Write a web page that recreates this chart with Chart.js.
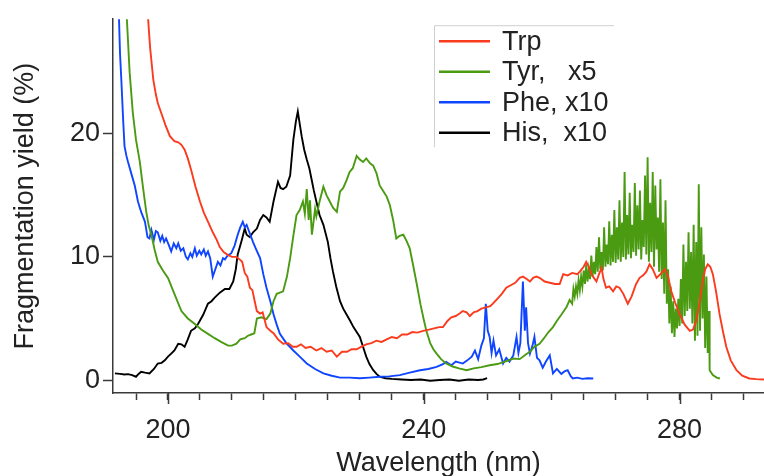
<!DOCTYPE html>
<html>
<head>
<meta charset="utf-8">
<script src="https://cdn.jsdelivr.net/npm/chart.js@4/dist/chart.umd.min.js"></script>
<style>
  html, body { margin: 0; padding: 0; background: #fff; }
  #wrap { width: 764px; height: 476px; }
</style>
</head>
<body>
<div id="wrap"><canvas id="c" width="764" height="476"></canvas></div>
<script>
// fragmentation yield vs wavelength
const trpX = [196.8, 197.2, 197.7, 198.1, 198.4, 199.0, 199.6, 200.3, 201.0, 201.6, 202.1, 202.6, 203.1, 203.6, 204.3, 205.0, 205.6, 206.3, 207.0, 207.6,
  208.1, 208.7, 209.4, 210.0, 210.7, 211.2, 211.6, 212.0, 212.4, 212.8, 213.2, 213.6, 213.9, 214.4, 214.8, 215.4, 216.0, 216.5, 217.2, 218.0,
  218.8, 219.5, 220.1, 220.8, 221.5, 222.3, 223.2, 224.0, 224.8, 225.6, 226.4, 227.2, 228.0, 228.7, 229.5, 230.2, 231.0, 231.8, 232.6, 233.4,
  234.2, 235.0, 235.8, 236.6, 237.4, 238.2, 239.0, 239.9, 240.8, 241.6, 242.4, 243.0, 243.7, 244.3, 245.0, 245.6, 246.1, 246.7, 247.2, 247.8,
  248.4, 249.0, 249.7, 250.4, 250.8, 251.5, 252.2, 252.9, 253.6, 254.3, 255.0, 255.5, 256.1, 256.6, 257.1, 257.6, 258.1, 258.9, 259.7, 260.5,
  261.25, 261.8, 262.5, 263.2, 264.0, 264.4, 265.0, 265.4, 265.8, 266.2, 266.6, 267.0, 267.4, 267.8, 268.1, 268.5, 269.0, 269.6, 270.1, 270.6,
  271.2, 271.9, 272.5, 273.2, 273.75, 274.3, 274.8, 275.3, 275.8, 276.4, 277.0, 277.7, 278.2, 278.7, 279.3, 280.0, 280.8, 281.6, 282.1, 282.6,
  283.1, 283.6, 284.0, 284.4, 284.8, 285.2, 285.7, 286.25, 286.8, 287.3, 288.0, 288.9, 289.8, 290.9, 292.0, 293.2];
const trpY = [30.0, 27.0, 24.4, 23.2, 22.5, 21.6, 20.7, 19.8, 19.4, 19.3, 19.1, 18.7, 18.0, 17.1, 15.7, 14.5, 13.6, 12.8, 12.0, 11.4,
  10.8, 10.4, 10.15, 10.0, 10.0, 9.8, 9.6, 8.7, 8.4, 7.5, 7.3, 6.3, 5.6, 5.4, 5.5, 4.3, 4.0, 3.8, 3.3, 2.95,
  3.0, 2.7, 2.7, 2.9, 2.6, 2.7, 2.4, 2.6, 2.3, 2.4, 1.9, 2.3, 2.3, 2.5, 2.5, 2.7, 2.9, 3.0, 3.2, 3.1,
  3.3, 3.5, 3.4, 3.7, 3.7, 3.9, 3.85, 4.0, 4.1, 4.2, 4.3, 4.3, 4.8, 5.1, 5.2, 5.4, 5.6, 5.5, 5.2, 5.5,
  5.6, 5.8, 5.9, 6.0, 6.2, 6.6, 7.0, 7.5, 7.7, 7.9, 8.3, 8.4, 8.2, 8.0, 8.3, 8.4, 8.3, 8.0, 7.9, 7.8,
  7.8, 8.6, 8.5, 8.7, 8.6, 8.8, 9.2, 9.6, 9.2, 8.6, 8.3, 8.0, 8.6, 9.1, 8.2, 7.5, 7.6, 7.2, 7.6, 7.5,
  7.0, 6.2, 6.8, 7.8, 8.3, 8.5, 8.8, 9.4, 9.0, 8.3, 8.6, 9.0, 8.4, 7.2, 6.3, 5.35, 4.5, 4.0, 4.1, 4.8,
  6.2, 8.0, 9.0, 9.4, 9.2, 8.6, 7.2, 5.35, 3.9, 2.7, 1.6, 0.8, 0.35, 0.13, 0.08, 0.05];

const tyrX = [193.5, 194.0, 194.5, 195.0, 195.6, 196.1, 196.6, 197.0, 197.4, 197.9, 198.4, 199.2, 200.0, 201.0, 202.1, 203.1, 204.2, 205.2, 206.25, 207.3,
  208.3, 209.4, 210.0, 210.7, 211.3, 212.0, 212.5, 213.0, 213.5, 213.9, 214.6, 215.4, 216.0, 216.5, 217.0, 217.5, 218.0, 218.6, 219.1, 219.6,
  220.1, 220.6, 221.1, 221.4, 221.7, 222.0, 222.2, 222.5, 222.7, 223.0, 223.2, 223.7, 224.3, 224.8, 225.3, 225.8, 226.4, 226.9, 227.4, 227.9,
  228.4, 228.9, 229.5, 230.0, 230.5, 231.0, 231.6, 232.1, 232.6, 233.1, 233.6, 234.2, 234.7, 235.2, 235.7, 236.2, 236.8, 237.3, 237.8, 238.3,
  238.9, 239.5, 240.0, 240.4, 241.0, 241.5, 242.0, 242.7, 243.5, 244.5, 245.5, 246.7, 247.8, 249.0, 250.3, 251.5, 252.7, 254.0, 255.0, 256.0,
  256.6, 257.3, 258.1, 258.8, 259.5, 260.2, 260.8, 261.5, 262.3, 262.8,
  263.2, 263.4, 263.6, 263.8, 264.0, 264.2, 264.4, 264.6, 264.8, 265.0, 265.2, 265.4, 265.6, 265.8, 266.0, 266.2, 266.4, 266.6, 266.8, 267.0,
  267.2, 267.4, 267.6, 267.8, 268.0, 268.2, 268.4, 268.6, 268.8, 269.0, 269.2, 269.4, 269.6, 269.8, 270.0, 270.2, 270.4, 270.6, 270.8, 271.0,
  271.2, 271.4, 271.6, 271.8, 272.0, 272.2, 272.4, 272.6, 272.8, 273.0, 273.2, 273.4, 273.6, 273.8, 274.0, 274.2, 274.4, 274.6, 274.8, 275.0,
  275.2, 275.4, 275.6, 275.8, 276.0, 276.2, 276.4, 276.6, 276.8, 277.0, 277.2, 277.4, 277.6, 277.8, 278.0, 278.2, 278.4, 278.6, 278.8, 279.0,
  279.2, 279.4, 279.6, 279.8, 280.0, 280.2, 280.4, 280.6, 280.8, 281.0, 281.2, 281.4, 281.6, 281.8, 282.0, 282.2, 282.4, 282.6, 282.8, 283.0,
  283.2, 283.4, 283.6, 283.8, 284.0, 284.2, 284.4, 284.6, 284.7, 285.2, 285.8, 286.3];
const tyrY = [30.0, 25.0, 21.7, 19.5, 17.7, 15.6, 13.65, 12.5, 11.8, 10.6, 9.6, 8.9, 8.3, 7.0, 5.6, 5.0, 4.55, 4.1, 3.75, 3.4,
  3.1, 2.8, 2.8, 2.95, 3.3, 3.4, 3.6, 3.7, 3.8, 5.0, 5.1, 4.95, 5.4, 6.4, 7.0, 7.1, 7.2, 8.4, 9.9, 11.7,
  13.4, 13.8, 14.5, 13.5, 15.5, 13.0, 14.6, 11.8, 12.6, 13.9, 13.3, 14.5, 15.7, 15.0, 14.5, 14.0, 13.65, 15.3, 15.6, 16.2,
  16.9, 17.2, 18.2, 17.9, 17.7, 18.0, 17.6, 17.4, 16.8, 15.8, 15.4, 14.9, 14.2, 13.0, 11.5, 11.7, 11.8, 11.3, 10.7, 9.4,
  7.8, 6.1, 4.9, 4.0, 3.0, 2.5, 2.15, 1.7, 1.35, 1.1, 0.95, 0.8, 0.95, 1.05, 1.2, 1.3, 1.5, 1.75, 1.7, 2.1,
  2.3, 2.7, 2.95, 3.4, 3.9, 4.3, 4.8, 5.3, 5.9, 6.5,
  6.2, 7.4, 6.8, 7.6, 7.0, 8.1, 7.3, 8.4, 7.6, 8.9, 7.8, 9.4, 8.0, 9.0, 8.2, 10.1, 8.4, 9.6, 8.6, 10.8,
  8.8, 11.6, 9.0, 10.4, 8.9, 12.4, 9.2, 11.0, 9.4, 12.9, 9.3, 11.8, 9.6, 13.8, 9.5, 12.4, 9.8, 14.6, 9.6, 12.8,
  10.0, 16.9, 9.8, 13.4, 10.2, 15.2, 9.9, 12.6, 10.4, 16.0, 10.1, 14.2, 10.6, 15.4, 9.8, 13.0, 10.8, 16.6, 10.2, 18.1,
  9.6, 14.4, 10.4, 16.9, 9.2, 15.8, 10.6, 13.2, 8.8, 16.3, 8.2, 12.8, 7.0, 14.6, 6.2, 9.0, 4.6, 7.6, 3.8, 6.4,
  3.5, 5.8, 4.2, 6.6, 4.4, 8.2, 4.6, 11.0, 5.2, 9.6, 5.6, 12.0, 5.8, 10.4, 4.6, 12.6, 3.2, 11.2, 3.6, 15.9,
  4.0, 12.4, 5.0, 10.2, 2.6, 8.4, 2.2, 5.6, 0.8, 0.4, 0.2, 0.13];

const pheX = [192.3, 192.5, 192.7, 193.0, 193.2, 193.5, 193.75, 194.3, 194.8, 195.3, 195.8, 196.4, 196.8, 197.1, 197.4, 197.8, 198.1, 198.4, 198.8, 199.1,
  199.4, 199.7, 200.1, 200.5, 200.9, 201.3, 201.6, 202.0, 202.4, 202.8, 203.1, 203.5, 203.8, 204.2, 204.5, 204.9, 205.2, 205.6, 205.9, 206.25,
  206.6, 207.0, 207.4, 207.8, 208.2, 208.6, 208.9, 209.3, 209.9, 210.4, 210.9, 211.3, 211.7, 212.0, 212.3, 212.8, 213.3, 213.8, 214.4, 214.9,
  215.4, 216.0, 216.5, 217.0, 217.5, 218.5, 219.6, 220.6, 221.7, 223.0, 224.3, 225.6, 226.9, 228.4, 230.0, 231.5, 233.1, 234.6, 236.25, 237.8,
  239.4, 240.7, 242.0, 243.0, 243.5, 244.3, 245.0, 246.1, 246.8, 247.5, 248.0, 248.5, 249.0, 249.4, 249.7, 250.0, 250.3, 250.6, 250.9, 251.3,
  251.8, 252.4, 252.9, 253.4, 254.0, 254.5, 254.8, 255.1, 255.5, 255.8, 256.0, 256.3, 256.6, 257.0, 257.3, 257.7, 258.1, 258.6, 259.1, 259.7,
  260.2, 260.8, 261.5, 262.0, 262.5, 263.0, 263.3, 264.0, 264.8, 265.6, 266.5];
const pheY = [30.0, 26.5, 24.4, 21.0, 19.0, 18.2, 17.7, 16.7, 15.8, 14.5, 13.65, 12.85, 11.6, 11.5, 12.2, 11.4, 12.1, 12.0, 11.3, 11.7,
  11.2, 11.5, 11.0, 10.45, 11.1, 10.7, 11.1, 10.5, 10.7, 10.0, 9.8, 10.3, 10.0, 10.7, 10.1, 10.5, 10.2, 10.6, 10.1, 10.45,
  9.9, 8.4, 9.0, 9.6, 9.3, 9.9, 9.8, 10.1, 10.3, 10.9, 11.8, 12.4, 12.85, 12.4, 12.6, 11.9, 11.2, 10.6, 9.9, 8.6,
  7.5, 6.4, 5.35, 4.5, 3.75, 3.0, 2.4, 1.9, 1.35, 0.9, 0.54, 0.35, 0.2, 0.2, 0.15, 0.2, 0.27, 0.3, 0.4, 0.6,
  0.8, 0.9, 1.07, 1.3, 1.47, 1.2, 1.5, 1.34, 1.6, 1.9, 2.4, 1.7, 2.8, 3.4, 6.2, 4.0, 3.5, 2.2, 3.2, 2.0,
  2.5, 1.34, 1.8, 1.5, 2.0, 3.5, 2.2, 3.0, 8.0, 4.0, 5.9, 3.0, 2.15, 2.8, 3.5, 1.8, 1.6, 1.0, 1.5, 2.0,
  0.54, 0.9, 0.5, 0.7, 0.8, 0.3, 0.13, 0.2, 0.1, 0.15, 0.13];

const hisX = [191.7, 192.5, 193.2, 193.75, 194.4, 195.0, 195.4, 195.8, 196.4, 197.1, 197.8, 198.4, 199.0, 199.5, 200.0, 200.5, 201.0, 201.6, 202.1, 202.6,
  203.1, 203.6, 204.2, 204.7, 205.5, 206.25, 206.8, 207.3, 208.1, 208.9, 209.6, 210.2, 210.6, 210.9, 211.5, 212.0, 212.3, 212.8, 213.3, 213.9,
  214.4, 214.9, 215.4, 215.9, 216.5, 217.2, 217.6, 218.0, 218.5, 219.1, 219.6, 220.0, 220.3, 220.6, 220.9, 221.3, 221.7, 222.1, 222.45, 222.8,
  223.2, 223.7, 224.3, 225.0, 225.4, 225.8, 226.3, 226.9, 227.4, 227.9, 228.5, 229.0, 229.5, 230.0, 230.5, 231.0, 231.5, 232.1, 232.6, 233.1,
  234.0, 235.0, 236.5, 238.0, 239.5, 241.0, 242.5, 244.0, 245.5, 247.0, 248.5, 249.3, 249.9];
const hisY = [0.54, 0.5, 0.45, 0.48, 0.4, 0.27, 0.5, 0.67, 0.6, 0.54, 0.9, 1.34, 1.4, 1.6, 1.9, 2.15, 2.4, 2.95, 2.9, 2.7,
  3.3, 4.0, 4.2, 4.55, 5.3, 6.2, 6.4, 6.7, 7.1, 7.4, 7.4, 8.0, 9.0, 10.2, 11.3, 12.3, 11.8, 11.6, 12.0, 12.3,
  13.0, 13.4, 13.2, 12.85, 14.5, 16.1, 15.6, 15.5, 15.7, 16.6, 19.5, 21.0, 21.8, 20.8, 19.8, 18.7, 17.9, 17.2, 16.3, 15.4,
  14.5, 13.4, 12.6, 11.2, 9.9, 8.8, 7.6, 6.4, 5.8, 5.35, 4.8, 4.3, 3.9, 3.5, 2.7, 1.9, 1.3, 0.8, 0.5, 0.27,
  0.15, 0.1, 0.05, 0.0, 0.05, -0.05, 0.0, 0.05, -0.05, 0.05, 0.0, 0.05, 0.15];

const seriesNames = ["Trp", "Tyr,   x5", "Phe, x10", "His,  x10"];
const seriesColors = ["#fb3b1e", "#4a9a12", "#0f45ff", "#000000"];
const xLabelTicks = [200, 240, 280];

const FONT = '"Liberation Sans", Arial, sans-serif';
const AXIS = "#3a3a3a";

function pts(xs, ys) {
  return xs.map((x, i) => ({ x: x, y: ys[i] }));
}

// longer ticks at the labelled wavelengths
const majorTicks = {
  id: "majorTicks",
  afterDraw(chart) {
    const sx = chart.scales.x, ctx = chart.ctx, b = chart.chartArea.bottom;
    ctx.save();
    ctx.strokeStyle = AXIS;
    ctx.lineWidth = 1.5;
    xLabelTicks.forEach(v => {
      const p = Math.round(sx.getPixelForValue(v)) + 0.5;
      ctx.beginPath();
      ctx.moveTo(p, b);
      ctx.lineTo(p, b + 11);
      ctx.stroke();
    });
    ctx.restore();
  }
};

// boxed legend inside the plot, top right
const boxLegend = {
  id: "boxLegend",
  afterDatasetsDraw(chart) {
    const a = chart.chartArea, ctx = chart.ctx;
    const left = a.left + 321, top = a.top + 6, w = 180, h = 122;
    ctx.save();
    ctx.fillStyle = "#fff";
    ctx.fillRect(left, top, w, h);
    ctx.strokeStyle = "#cfcfcf";
    ctx.lineWidth = 1;
    ctx.beginPath();
    ctx.moveTo(left + 0.5, top + h);
    ctx.lineTo(left + 0.5, top + 0.5);
    ctx.lineTo(left + w, top + 0.5);
    ctx.stroke();
    ctx.font = "27px " + FONT;
    ctx.textBaseline = "middle";
    seriesNames.forEach((name, i) => {
      const y = top + 16 + i * 30.5;
      ctx.strokeStyle = seriesColors[i];
      ctx.lineWidth = 2.5;
      ctx.beginPath();
      ctx.moveTo(left + 5, y);
      ctx.lineTo(left + 56, y);
      ctx.stroke();
      ctx.fillStyle = "#222";
      ctx.fillText(name, left + 68, y + 1);
    });
    ctx.restore();
  }
};

const datasets = [
  [trpX, trpY], [tyrX, tyrY], [pheX, pheY], [hisX, hisY]
].map((d, i) => ({
  label: seriesNames[i],
  data: pts(d[0], d[1]),
  borderColor: seriesColors[i],
  borderWidth: 1.9,
  pointRadius: 0,
  tension: 0,
  fill: false
}));

new Chart(document.getElementById("c"), {
  type: "line",
  data: { datasets: datasets },
  options: {
    responsive: false,
    animation: false,
    devicePixelRatio: 1,
    layout: { padding: { top: 15, right: 0, left: 0, bottom: 0 } },
    plugins: { legend: { display: false }, tooltip: { enabled: false } },
    scales: {
      x: {
        type: "linear",
        min: 191.4,
        max: 293.2,
        afterFit: s => { s.height = 83; },
        border: { color: AXIS, width: 1.5 },
        grid: { drawOnChartArea: false, tickLength: 7, tickColor: AXIS, tickWidth: 1.5 },
        ticks: {
          stepSize: 5, includeBounds: false, autoSkip: false, maxRotation: 0, maxTicksLimit: 100,
          padding: 14, color: "#222", font: { family: FONT, size: 27 },
          callback: v => xLabelTicks.includes(v) ? String(v) : ""
        },
        title: { display: true, text: "Wavelength (nm)", color: "#222", font: { family: FONT, size: 27 }, padding: { top: 0, bottom: -4 } }
      },
      y: {
        type: "linear",
        min: -1.05,
        max: 29.3,
        afterFit: s => { s.width = 113; },
        border: { color: AXIS, width: 1.5 },
        grid: { drawOnChartArea: false, tickLength: 10, tickColor: AXIS, tickWidth: 1.5 },
        ticks: {
          stepSize: 10, includeBounds: false, padding: 3, color: "#222", font: { family: FONT, size: 27 }
        },
        title: { display: true, text: "Fragmentation yield (%)", color: "#222", font: { family: FONT, size: 27 }, padding: { top: 9, bottom: 0 } }
      }
    }
  },
  plugins: [boxLegend, majorTicks]
});
</script>
</body>
</html>
